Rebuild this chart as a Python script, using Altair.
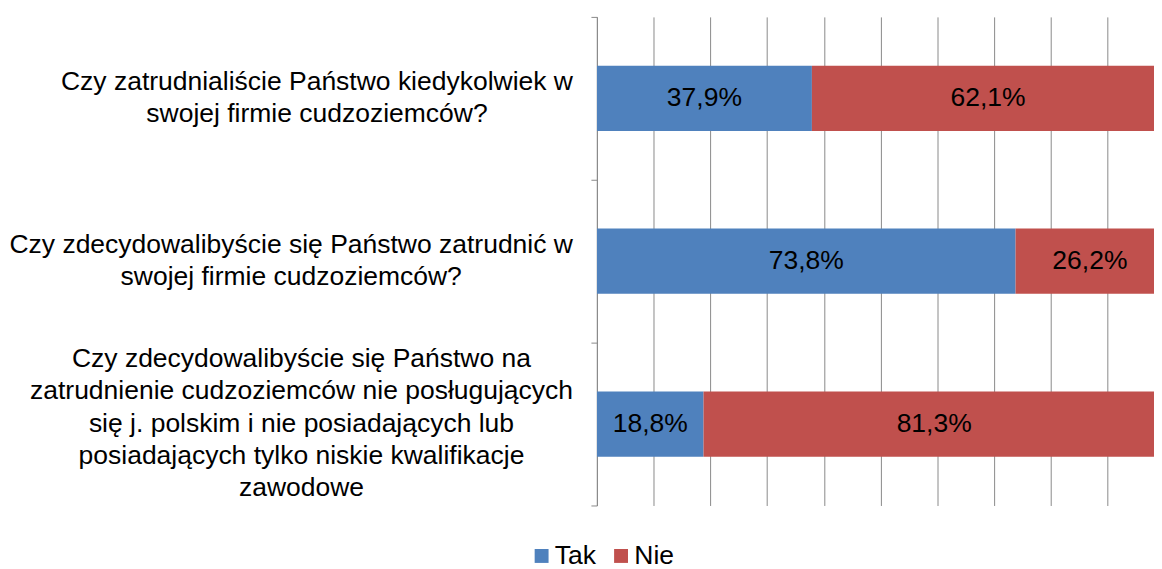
import altair as alt
import pandas as pd

questions = [
    "Czy zatrudnialiście Państwo kiedykolwiek w|swojej firmie cudzoziemców?",
    "Czy zdecydowalibyście się Państwo zatrudnić w|swojej firmie cudzoziemców?",
    "Czy zdecydowalibyście się Państwo na|zatrudnienie cudzoziemców nie posługujących|się j. polskim i nie posiadających lub|posiadających tylko niskie kwalifikacje|zawodowe",
]
series = ["Tak", "Nie"]
tak = [37.9, 73.8, 18.8]
nie = [62.1, 26.2, 81.3]
colors = ["#4F81BD", "#C0504D"]

FONT = "Liberation Sans"
FS = 26.67
LINE_H = 32.5
GRAY = "#898989"

# approximate Arial / Liberation Sans advance widths (1/1000 em), used to
# mimic the Excel behaviour of right-aligning each centred label block
ARIAL_W = {
    " ": 278, "?": 556, ".": 278,
    "a": 556, "b": 556, "c": 500, "d": 556, "e": 556, "f": 278, "g": 556,
    "h": 556, "i": 222, "j": 222, "k": 500, "l": 222, "m": 833, "n": 556,
    "o": 556, "p": 556, "q": 556, "r": 333, "s": 500, "t": 278, "u": 556,
    "v": 500, "w": 722, "x": 500, "y": 500, "z": 500,
    "C": 722, "P": 667,
    "ą": 556, "ę": 556, "ć": 500, "ś": 500, "ń": 556, "ó": 556, "ł": 222,
}


def text_width(s):
    return sum(ARIAL_W.get(ch, 556) for ch in s) * FS / 1000.0


rows = []
for q, t, n in zip(questions, tak, nie):
    start = 0.0
    for i, (s, v) in enumerate(zip(series, [t, n])):
        rows.append({
            "question": q,
            "series": s,
            "order": i,
            "value": v / 100.0,
            "mid": (start + v / 2.0) / 100.0,
            "label": f"{v:.1f}%".replace(".", ","),
        })
        start += v
df = pd.DataFrame(rows)

y_scale = alt.Scale(domain=questions, paddingInner=0, paddingOuter=0)

y_enc = alt.Y(
    "question:N",
    sort=questions,
    scale=y_scale,
    axis=alt.Axis(
        title=None,
        domainColor=GRAY,
        tickColor=GRAY,
        tickBand="extent",
        tickSize=6,
        grid=False,
        labels=False,
    ),
)

x_scale = alt.Scale(domain=[0, 0.982], nice=False, zero=True)

bars = alt.Chart(df).mark_bar(clip=True, height=alt.RelativeBandSize(0.4)).encode(
    y=y_enc,
    x=alt.X(
        "value:Q",
        stack="zero",
        scale=x_scale,
        axis=alt.Axis(
            title=None,
            grid=True,
            gridColor=GRAY,
            gridWidth=1,
            domain=False,
            ticks=False,
            labels=False,
            values=[0, 0.1, 0.2, 0.3, 0.4, 0.5, 0.6, 0.7, 0.8, 0.9],
        ),
    ),
    color=alt.Color(
        "series:N",
        sort=series,
        scale=alt.Scale(domain=series, range=colors),
        legend=alt.Legend(
            title=None,
            orient="none",
            direction="horizontal",
            legendX=-69,
            legendY=529,
            symbolType="square",
            symbolSize=196,
            symbolStrokeWidth=0,
            labelFont=FONT,
            labelFontSize=FS,
            labelColor="#000000",
            labelOffset=0,
            columnPadding=11,
        ),
    ),
    order=alt.Order("order:Q"),
)

values_text = alt.Chart(df).mark_text(
    font=FONT, fontSize=FS, color="#000000", baseline="middle", align="center"
).encode(
    y=alt.Y("question:N", sort=questions, scale=y_scale),
    x=alt.X("mid:Q", scale=x_scale),
    text="label:N",
)

# category labels on the left: lines centred within a block that is
# right-aligned 24px left of the axis, block vertically centred on the band
label_layers = []
for q in questions:
    lines = q.split("|")
    maxw = max(text_width(l) for l in lines)
    center_x = -24 - maxw / 2.0
    qdf = pd.DataFrame({"question": [q]})
    label_layers.append(
        alt.Chart(qdf).mark_text(
            font=FONT,
            fontSize=FS,
            color="#000000",
            align="center",
            baseline="line-top",
            lineBreak="|",
            lineHeight=LINE_H,
            dy=-len(lines) * LINE_H / 2.0,
        ).encode(
            y=alt.Y("question:N", sort=questions, scale=y_scale),
            x=alt.value(center_x),
            text="question:N",
        )
    )

chart = (
    alt.layer(bars, values_text, *label_layers)
    .properties(
        width=561,
        height=492,
        autosize=alt.AutoSizeParams(type="none"),
        padding={"left": 593, "top": 7, "right": 0, "bottom": 62},
    )
    .configure_view(stroke=None)
)

chart.save("out.html", embed_options={"renderer": "svg", "actions": False})
